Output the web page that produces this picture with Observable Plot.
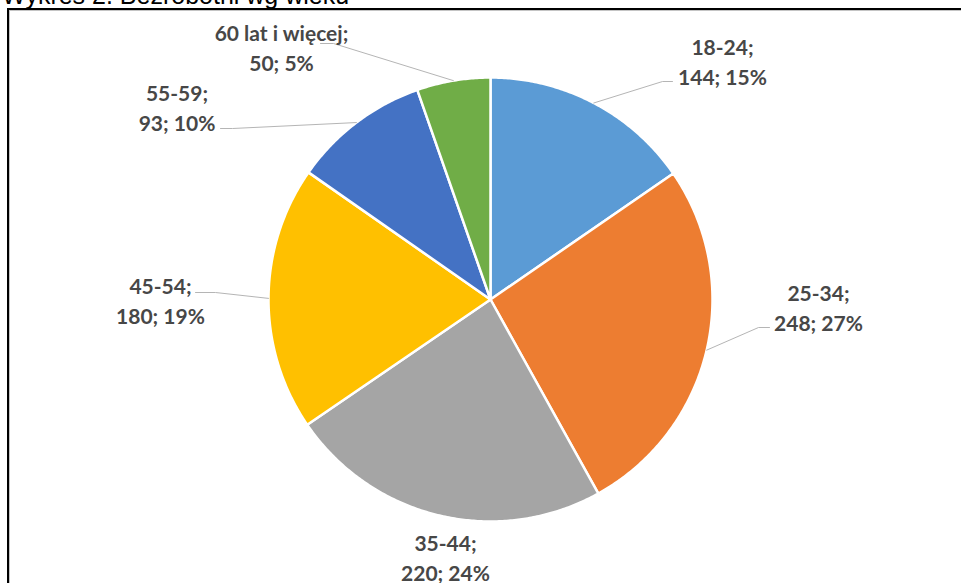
<!DOCTYPE html>
<html><head><meta charset="utf-8">
<script src="https://cdn.jsdelivr.net/npm/d3@7"></script>
<script src="https://cdn.jsdelivr.net/npm/@observablehq/plot@0.6"></script>
<style>
html,body{margin:0;padding:0;background:#fff;overflow:hidden;width:961px;height:583px}
#title{position:absolute;left:2px;top:-17px;font-family:"Liberation Sans",Arial,sans-serif;font-size:25px;line-height:25px;color:#000;white-space:nowrap}
#frame{position:absolute;left:7px;top:8px;width:1200px;height:1200px;border-left:2px solid #000;border-top:2px solid #000;box-shadow:inset 1px 1px 0 #c4c4c4;pointer-events:none;z-index:2}
#chart{position:absolute;left:0;top:0}
</style></head><body>
<div id="title">Wykres 2. Bezrobotni wg wieku</div>
<div id="chart"></div>
<div id="frame"></div>
<script>
// ---- data ----
const categories = ["18-24", "25-34", "35-44", "45-54", "55-59", "60 lat i więcej"];
const values = [144, 248, 220, 180, 93, 50];
const colors = ["#5B9BD5", "#ED7D31", "#A5A5A5", "#FFC000", "#4472C4", "#70AD47"];

// ---- layout (annotation placement, in page pixels) ----
const W = 961, H = 583, CX = 490, CY = 299, R = 222;
const labelCentres = [[722, 59.5], [818, 305.5], [445, 555.5], [160, 298.5], [176.5, 106], [281, 45.5]];
const leaderEnds = [
  [[662, 81], [672, 81]],
  [[758, 327], [769, 327]],
  null,
  [[215, 292], [195, 292]],
  [[232, 128], [220, 128]],
  [[333, 43], [320, 43]]
];
const ux = px => (px - CX) / R;
const uy = py => (CY - py) / R;

// ---- derived geometry ----
const total = d3.sum(values);
let acc = 0;
const slices = categories.map((key, i) => {
  const a0 = acc / total * 2 * Math.PI;
  acc += values[i];
  const a1 = acc / total * 2 * Math.PI;
  return {key, value: values[i], a0, a1, mid: (a0 + a1) / 2, pct: Math.round(values[i] / total * 100)};
});

const slicePts = [];
for (const s of slices) {
  slicePts.push({key: s.key, x: 0, y: 0});
  const n = Math.max(2, Math.ceil((s.a1 - s.a0) / (Math.PI / 360)));
  for (let k = 0; k <= n; k++) {
    const a = s.a0 + (s.a1 - s.a0) * k / n;
    slicePts.push({key: s.key, x: Math.sin(a), y: Math.cos(a)});
  }
  slicePts.push({key: s.key, x: 0, y: 0});
}

const leaderPts = [];
slices.forEach((s, i) => {
  if (!leaderEnds[i]) return;
  leaderPts.push({key: s.key, x: Math.sin(s.mid), y: Math.cos(s.mid)});
  for (const [px, py] of leaderEnds[i]) leaderPts.push({key: s.key, x: ux(px), y: uy(py)});
});

const labels = slices.map((s, i) => ({
  x: ux(labelCentres[i][0]),
  y: uy(labelCentres[i][1]),
  text: `${s.key};\n${s.value}; ${s.pct}%`
}));

const chart = Plot.plot({
  width: W, height: H, margin: 0,
  style: {background: "transparent", overflow: "visible"},
  x: {domain: [ux(0), ux(W)], axis: null},
  y: {domain: [uy(H), uy(0)], axis: null},
  color: {domain: categories, range: colors},
  marks: [
    Plot.line(slicePts, {x: "x", y: "y", z: "key", fill: "key", stroke: "white", strokeWidth: 2.5, strokeLinejoin: "round", curve: "linear"}),
    Plot.line(leaderPts, {x: "x", y: "y", z: "key", stroke: "#b5b5b5", strokeWidth: 1, curve: "linear"}),
    Plot.text(labels, {x: "x", y: "y", text: "text", fontFamily: "Lato, 'Open Sans', sans-serif", fontWeight: "bold", fontSize: 21, lineHeight: 1.43, fill: "#474747", textAnchor: "middle"})
  ]
});
document.getElementById("chart").appendChild(chart);
</script>
</body></html>
